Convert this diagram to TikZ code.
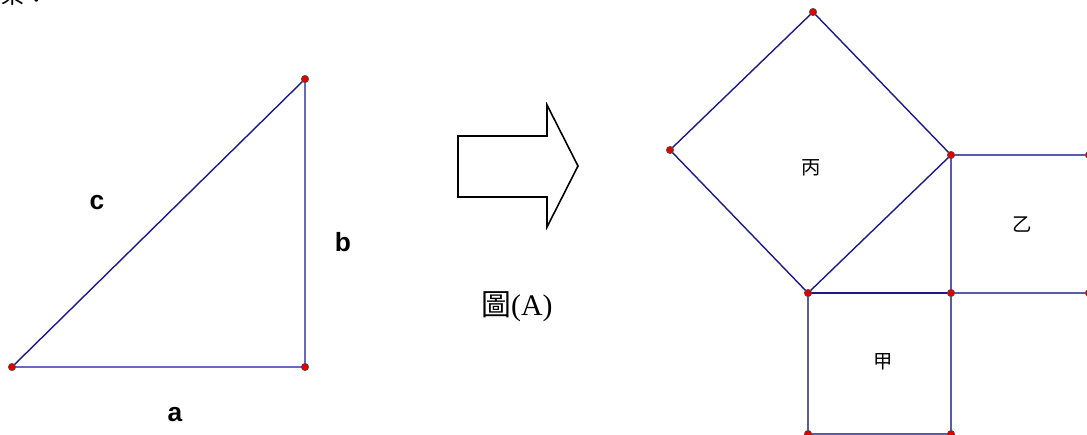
\documentclass[tikz,border=0pt]{standalone}
\usepackage{fontspec}
\setmainfont{Liberation Serif}
\setsansfont{Liberation Sans}
\newfontfamily\cjk{Noto Sans CJK TC}
\usetikzlibrary{positioning}
\definecolor{edgeBlue}{HTML}{1A1A8C}
\definecolor{sqBlue}{HTML}{5A5AAA}
\definecolor{dotRed}{HTML}{E00000}

\tikzset{
  side/.style={draw=edgeBlue,line width=0.8pt},
  sqside/.style={draw=sqBlue,line width=0.9pt},
  vtx/.style={circle,fill=dotRed,draw=black!70,line width=0.3pt,inner sep=0pt,minimum size=4.2pt},
  leglabel/.style={font=\sffamily\bfseries\fontsize{15}{18}\selectfont},
  sqlabel/.style={font=\cjk\fontsize{11}{13}\selectfont}
}

\begin{document}
\begin{tikzpicture}[x=0.02cm,y=-0.02cm]
  \useasboundingbox (0,0) rectangle (1087,435);
  \begin{scope}
  \clip (0,0) rectangle (1087,435);

  % cut-off heading
  \node[font=\cjk\fontsize{14}{16}\selectfont,anchor=base west] (head) at (-6,4) {案：};

  % triangle
  \coordinate (A) at (12,367);
  \coordinate (B) at (305,367);
  \coordinate (C) at (305,79);
  \draw[side] (A) -- (B) -- (C) -- cycle;
  \foreach \p in {A,B,C} \node[vtx] at (\p) {};
  \node[leglabel] (lc) at (97,203) {c};
  \node[leglabel] (lb) at (343,242) {b};
  \node[leglabel] (la) at (175,415) {a};

  % block arrow
  \draw[line width=0.9pt,line join=miter] (458,136) -- (547,136) -- (547,105) -- (578,166)
    -- (547,227) -- (547,197) -- (458,197) -- cycle;
  \node[font=\fontsize{17}{20}\selectfont] (cap) at (517,307) {{\cjk 圖}(A)};

  % squares on the sides
  \coordinate (P) at (808,293);
  \coordinate (Q) at (951,293);
  \coordinate (R) at (951,155);
  \coordinate (S) at (813,12);
  \coordinate (T) at (670,150);
  \coordinate (U) at (1089,155);
  \coordinate (V) at (1089,293);
  \coordinate (W) at (951,434);
  \coordinate (X) at (808,434);
  \draw[sqside] (P) -- (X) -- (W) -- (Q);
  \draw[sqside] (Q) -- (V);
  \draw[sqside] (R) -- (U);
  \draw[sqside] (R) -- (Q);
  \draw[side] (P) -- (Q);
  \draw[side] (P) -- (R) -- (S) -- (T) -- cycle;
  \foreach \p in {P,Q,R,S,T,U,V,W,X} \node[vtx] at (\p) {};
  \node[sqlabel] (bing) at (811,168) {丙};
  \node[sqlabel] (yi) at (1022,225) {乙};
  \node[sqlabel] (jia) at (883,362) {甲};
  \end{scope}
\end{tikzpicture}
\end{document}
